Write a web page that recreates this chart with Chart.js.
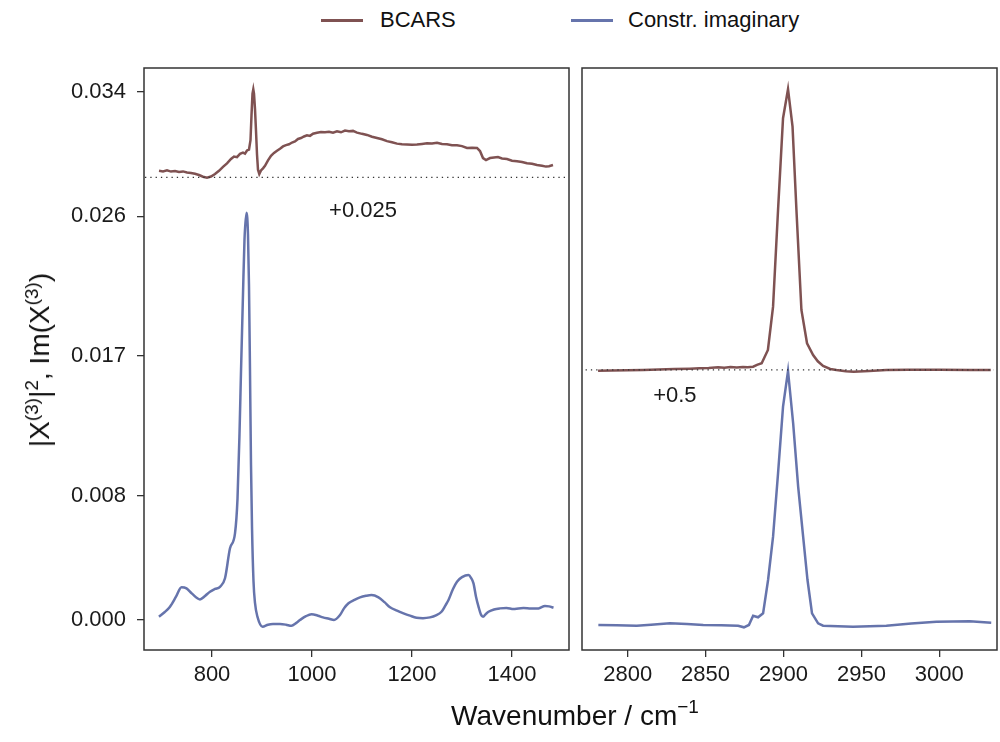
<!DOCTYPE html>
<html>
<head>
<meta charset="utf-8">
<script src="https://cdn.jsdelivr.net/npm/chart.js@4.4.1/dist/chart.umd.min.js"></script>
<style>
  body { margin: 0; background: #fff; font-family: "Liberation Sans", Arial, sans-serif; }
  #wrap { position: relative; width: 1000px; height: 742px; overflow: hidden; }
  .box { position: absolute; top: 0; height: 700px; }
  #legend { position: absolute; top: 6px; left: 0; width: 1000px; height: 30px; font-size: 22px; color: #111; }
  .lg-line { position: absolute; top: 13px; height: 3px; width: 42px; }
  .lg-text { position: absolute; top: 0; line-height: 28px; }
  #ytitle { position: absolute; left: 40px; top: 360px; transform: translate(-50%, -50%) rotate(-90deg); font-size: 28px; white-space: nowrap; color: #111; }
  #ytitle sup { font-size: 19px; vertical-align: 11px; line-height: 0; }
  #xtitle { position: absolute; left: 0; width: 1150px; top: 700px; text-align: center; font-size: 28px; color: #111; }
  #xtitle sup { font-size: 19px; vertical-align: 12px; line-height: 0; }
</style>
</head>
<body>
<div id="wrap">
  <div id="legend">
    <div class="lg-line" style="left:321px;background:#7f5252"></div>
    <div class="lg-text" style="left:380px">BCARS</div>
    <div class="lg-line" style="left:571px;background:#6674ac"></div>
    <div class="lg-text" style="left:628px">Constr. imaginary</div>
  </div>
  <div class="box" style="left:0;width:575px"><canvas id="left" width="575" height="700"></canvas></div>
  <div class="box" style="left:575px;width:425px"><canvas id="right" width="425" height="700"></canvas></div>
  <div id="ytitle">|X<sup>(3)</sup>|<sup>2</sup>, Im(X<sup>(3)</sup>)</div>
  <div id="xtitle">Wavenumber / cm<sup>&minus;1</sup></div>
</div>
<script>
// left panel: fingerprint region
const bcarsLeftX = [694, 702, 710, 718, 726, 734, 742, 750, 758, 766, 774, 782, 790, 798, 806, 814, 822, 830, 838, 844,
    850, 856, 862, 866, 870, 874, 877, 879, 881, 882.6, 884, 886, 888, 890, 892, 894.6, 898, 902, 906, 912,
    918, 924, 930, 936, 942, 948, 954, 960, 966, 972, 978, 984, 990, 996, 1002, 1010, 1018, 1026, 1034, 1042,
    1050, 1058, 1066, 1074, 1082, 1090, 1100, 1110, 1120, 1130, 1140, 1150, 1160, 1170, 1180, 1190, 1200, 1210, 1220, 1230,
    1240, 1250, 1260, 1270, 1280, 1290, 1300, 1310, 1320, 1330, 1336, 1342, 1348, 1356, 1364, 1372, 1380, 1390, 1400, 1410,
    1420, 1430, 1440, 1450, 1460, 1468, 1474, 1482];
const bcarsLeftY = [0.02893, 0.02889, 0.02896, 0.02888, 0.02891, 0.02885, 0.02889, 0.02882, 0.02879, 0.02874, 0.02866, 0.02855, 0.02848, 0.02856, 0.02872, 0.02893, 0.02918, 0.02941, 0.02969, 0.02985,
    0.02981, 0.03002, 0.03010, 0.03004, 0.03024, 0.03030, 0.03090, 0.03250, 0.03390, 0.03418, 0.03390, 0.03290, 0.03150, 0.03000, 0.02900, 0.02872, 0.02895, 0.02909, 0.02925, 0.02960,
    0.02990, 0.03008, 0.03022, 0.03035, 0.03050, 0.03058, 0.03064, 0.03075, 0.03082, 0.03098, 0.03104, 0.03114, 0.03122, 0.03118, 0.03132, 0.03138, 0.03143, 0.03141, 0.03145, 0.03139,
    0.03148, 0.03141, 0.03152, 0.03148, 0.03150, 0.03139, 0.03131, 0.03124, 0.03112, 0.03104, 0.03096, 0.03084, 0.03077, 0.03068, 0.03064, 0.03062, 0.03060, 0.03062, 0.03066, 0.03070,
    0.03069, 0.03074, 0.03066, 0.03064, 0.03058, 0.03057, 0.03052, 0.03040, 0.03042, 0.03040, 0.03020, 0.02975, 0.02962, 0.02975, 0.02978, 0.02981, 0.02972, 0.02969, 0.02958, 0.02955,
    0.02950, 0.02942, 0.02938, 0.02930, 0.02925, 0.02920, 0.02922, 0.02930];

const imagLeftX = [694, 705, 716, 728, 739, 749, 760, 776, 786, 796, 806, 816, 826, 836, 846, 851, 855, 858, 862, 865,
    869, 872, 874, 876, 878, 880, 883, 886, 891, 901, 912, 922, 936, 948, 959, 968, 976, 988, 999, 1012,
    1022, 1034, 1044, 1056, 1064, 1073, 1085, 1096, 1108, 1119, 1133, 1145, 1156, 1170, 1183, 1196, 1209, 1222, 1236, 1248,
    1259, 1267, 1273, 1282, 1290, 1300, 1313, 1318, 1323, 1328, 1333, 1338, 1342, 1348, 1353, 1364, 1376, 1389, 1403, 1413,
    1423, 1438, 1453, 1466, 1474, 1483];
const imagLeftY = [0.00021, 0.00050, 0.00086, 0.00150, 0.00211, 0.00204, 0.00170, 0.00133, 0.00155, 0.00182, 0.00200, 0.00214, 0.00269, 0.00462, 0.00558, 0.00780, 0.01200, 0.01600, 0.02100, 0.02450,
    0.02623, 0.02480, 0.02150, 0.01600, 0.01000, 0.00600, 0.00250, 0.00110, 0.00020, -0.00043, -0.00030, -0.00026, -0.00026, -0.00030, -0.00037, -0.00020, 0.00000, 0.00025, 0.00037, 0.00028,
    0.00017, 0.00008, 0.00000, 0.00032, 0.00075, 0.00108, 0.00130, 0.00146, 0.00156, 0.00161, 0.00146, 0.00115, 0.00082, 0.00060, 0.00043, 0.00028, 0.00015, 0.00012, 0.00017, 0.00030,
    0.00053, 0.00095, 0.00129, 0.00200, 0.00247, 0.00276, 0.00290, 0.00272, 0.00236, 0.00150, 0.00086, 0.00035, 0.00021, 0.00040, 0.00053, 0.00068, 0.00075, 0.00078, 0.00071, 0.00075,
    0.00077, 0.00074, 0.00075, 0.00090, 0.00088, 0.00079];

// right panel: CH stretch region
const bcarsRightX = [2781, 2790, 2800, 2810, 2820, 2830, 2840, 2846, 2852, 2858, 2862, 2866, 2870, 2874, 2877, 2880.5, 2883, 2886, 2890, 2893.3,
    2896.5, 2899.7, 2902.9, 2905.8, 2908.3, 2911.5, 2915.1, 2919, 2922, 2925.4, 2930, 2934, 2940, 2945, 2955, 2966, 2980, 3000, 3020, 3033];
const bcarsRightY = [0.4986, 0.4990, 0.4995, 0.5000, 0.5010, 0.5018, 0.5025, 0.5033, 0.5040, 0.5055, 0.5045, 0.5058, 0.5050, 0.5060, 0.5055, 0.5065, 0.5100, 0.5131, 0.5392, 0.6241,
    0.8137, 0.9935, 1.0504, 0.9771, 0.8137, 0.6176, 0.5524, 0.5294, 0.5170, 0.5078, 0.5020, 0.5000, 0.4975, 0.4967, 0.4980, 0.5000, 0.5005, 0.5005, 0.5000, 0.5000];

const imagRightX = [2781.2, 2793, 2805.8, 2815, 2827.1, 2838, 2848.5, 2860, 2870.9, 2874.6, 2877.8, 2880.5, 2883.7, 2886.9, 2890.1, 2893.3, 2896.5, 2899.7, 2902.9, 2906.2,
    2909.4, 2912.6, 2915.4, 2918.3, 2922.2, 2925.4, 2944.6, 2966, 2982, 2998.1, 3019.5, 3033.3];
const imagRightY = [0, -0.0005, -0.0014, 0.0005, 0.0033, 0.0020, 0, -0.0005, -0.0014, -0.0045, 0, 0.0182, 0.0151, 0.0229, 0.0882, 0.1731, 0.2973, 0.4280, 0.4980, 0.3955,
    0.2712, 0.1731, 0.0882, 0.0229, 0.0033, -0.0014, -0.0033, -0.0014, 0.0030, 0.0065, 0.0073, 0.0045];

// axes / offsets
const leftXTicks = [800, 1000, 1200, 1400];
const leftYTicks = [0, 0.008, 0.017, 0.026, 0.034];
const rightXTicks = [2800, 2850, 2900, 2950, 3000];
const leftOffset = 0.0285, rightOffset = 0.5;
const leftOffsetLabel = "+0.025", rightOffsetLabel = "+0.5";

const red = "#7f5252";
const blue = "#6674ac";
const ink = "#1a1a1a";
const font = { family: "'Liberation Sans', Arial, sans-serif", size: 22 };

function zip(xs, ys) {
    return xs.map((x, i) => ({ x: x, y: ys[i] }));
}

// frame around plot area + offset text
const framePlugin = {
    id: "frame",
    afterDraw(chart, args, opts) {
        const a = chart.chartArea;
        const ctx = chart.ctx;
        ctx.save();
        ctx.strokeStyle = "#333";
        ctx.lineWidth = 1.5;
        ctx.strokeRect(a.left, a.top, a.right - a.left, a.bottom - a.top);
        ctx.fillStyle = ink;
        ctx.font = "22px " + font.family;
        ctx.textAlign = "center";
        ctx.textBaseline = "middle";
        ctx.fillText(opts.text, chart.scales.x.getPixelForValue(opts.tx), chart.scales.y.getPixelForValue(opts.ty));
        ctx.restore();
    }
};

function lineSet(data, color, smooth) {
    return {
        data: data,
        borderColor: color,
        borderWidth: 2.5,
        pointRadius: 0,
        tension: smooth ? 0.4 : 0,
        cubicInterpolationMode: smooth ? "monotone" : "default"
    };
}

function dotted(x0, x1, y) {
    return {
        data: [{ x: x0, y: y }, { x: x1, y: y }],
        borderColor: "#333",
        borderWidth: 1.3,
        borderDash: [1.3, 4],
        pointRadius: 0
    };
}

function makeChart(id, cfg) {
    return new Chart(document.getElementById(id), {
        type: "line",
        data: { datasets: cfg.datasets },
        options: {
            responsive: false,
            animation: false,
            layout: { padding: cfg.padding },
            plugins: { legend: { display: false }, tooltip: { enabled: false }, frame: cfg.label },
            scales: {
                x: {
                    type: "linear",
                    min: cfg.xMin, max: cfg.xMax,
                    afterBuildTicks: s => { s.ticks = cfg.xTicks.map(v => ({ value: v })); },
                    afterFit: s => { s.height = 50; },
                    grid: { drawOnChartArea: false, drawTicks: true, tickLength: 7, color: "#333", lineWidth: 1.3 },
                    border: { display: false },
                    ticks: { color: ink, font: font, padding: 5, maxRotation: 0, callback: v => v }
                },
                y: {
                    type: "linear",
                    display: cfg.yTicks ? true : false,
                    min: cfg.yMin, max: cfg.yMax,
                    afterBuildTicks: s => { if (cfg.yTicks) s.ticks = cfg.yTicks.map(v => ({ value: v })); },
                    afterFit: s => { s.width = cfg.yTicks ? 144 : 0; },
                    grid: { drawOnChartArea: false, drawTicks: true, tickLength: 7, color: "#333", lineWidth: 1.3 },
                    border: { display: false },
                    ticks: { color: ink, font: font, padding: 11, callback: v => v.toFixed(3) }
                }
            }
        },
        plugins: [framePlugin]
    });
}

makeChart("left", {
    padding: { top: 68, right: 6, left: 0, bottom: 0 },
    xMin: 664, xMax: 1514,
    yMin: -0.00193, yMax: 0.03555,
    xTicks: leftXTicks,
    yTicks: leftYTicks,
    label: { text: leftOffsetLabel, tx: 1102, ty: 0.02634 },
    datasets: [
        dotted(666, 1512, leftOffset),
        lineSet(zip(bcarsLeftX, bcarsLeftY), red, false),
        lineSet(zip(imagLeftX, imagLeftY), blue, true)
    ]
});

makeChart("right", {
    padding: { top: 68, right: 3, left: 7, bottom: 0 },
    xMin: 2770.7, xMax: 3037,
    yMin: -0.049, yMax: 1.092,
    xTicks: rightXTicks,
    yTicks: null,
    label: { text: rightOffsetLabel, tx: 2830.3, ty: 0.449 },
    datasets: [
        dotted(2773, 3035, rightOffset),
        lineSet(zip(bcarsRightX, bcarsRightY), red, false),
        lineSet(zip(imagRightX, imagRightY), blue, false)
    ]
});
</script>
</body>
</html>
